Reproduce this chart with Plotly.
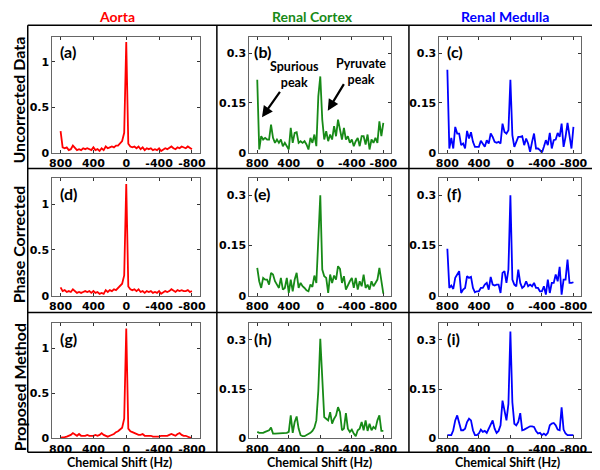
import plotly.graph_objects as go

# ---------------- data ----------------
freq_hz = list(range(800, -801, -25))  # 65 spectral points, 800 Hz .. -800 Hz

aorta_uncorrected = [0.24, 0.06, 0.05, 0.06, 0.03, 0.04, 0.08, 0.05, 0.03, 0.04, 0.03, 0.05, 0.04, 0.05, 0.04, 0.03,
                     0.06, 0.03, 0.04, 0.02, 0.05, 0.03, 0.07, 0.05, 0.06, 0.07, 0.06, 0.08, 0.08, 0.10, 0.13, 0.22,
                     1.22, 0.10, 0.07, 0.06, 0.07, 0.05, 0.07, 0.04, 0.06, 0.03, 0.05, 0.04, 0.05, 0.03, 0.04, 0.03,
                     0.05, 0.02, 0.04, 0.05, 0.04, 0.06, 0.07, 0.05, 0.04, 0.06, 0.05, 0.07, 0.06, 0.05, 0.07, 0.05, 0.04]
cortex_uncorrected = [0.22, 0.01, 0.05, 0.04, 0.045, 0.04, 0.04, 0.085, 0.045, 0.03, 0.04, 0.03, 0.04, 0.02, 0.03, 0.02,
                      0.01, 0.075, 0.03, 0.06, 0.062, 0.03, 0.035, 0.03, 0.035, 0.025, 0.01, 0.045, 0.03, 0.055, 0.02, 0.17,
                      0.23, 0.10, 0.04, 0.065, 0.035, 0.055, 0.04, 0.08, 0.05, 0.10, 0.07, 0.04, 0.075, 0.04, 0.05, 0.03,
                      0.04, 0.02, 0.035, 0.045, 0.02, 0.05, 0.05, 0.025, 0.055, 0.01, 0.04, 0.03, 0.045, 0.03, 0.095, 0.05, 0.09]
medulla_uncorrected = [0.25, 0.013, 0.045, 0.013, 0.078, 0.058, 0.058, 0.023, 0.028, 0.013, 0.066, 0.043, 0.062, 0.033, 0.018, 0.018,
                       0.018, 0.036, 0.026, 0.018, 0.038, 0.028, 0.058, 0.048, 0.033, 0.03, 0.033, 0.028, 0.088, 0.063, 0.058, 0.068,
                       0.22, 0.053, 0.018, 0.033, 0.048, 0.048, 0.05, 0.023, 0.043, 0.028, 0.003, 0.033, 0.058, 0.013, 0.013, 0.008,
                       0.0, 0.018, 0.038, 0.023, 0.06, 0.013, 0.038, 0.04, 0.06, 0.048, 0.088, 0.018, 0.048, 0.09, 0.048, 0.013, 0.078]

aorta_phase = [0.09, 0.05, 0.06, 0.04, 0.05, 0.04, 0.07, 0.05, 0.03, 0.04, 0.03, 0.04, 0.05, 0.04, 0.05, 0.03,
               0.05, 0.03, 0.04, 0.02, 0.03, 0.02, 0.06, 0.04, 0.06, 0.05, 0.07, 0.06, 0.08, 0.10, 0.13, 0.22,
               1.22, 0.10, 0.07, 0.06, 0.07, 0.05, 0.07, 0.04, 0.05, 0.03, 0.05, 0.04, 0.05, 0.03, 0.04, 0.03,
               0.05, 0.02, 0.04, 0.05, 0.04, 0.05, 0.07, 0.05, 0.04, 0.06, 0.05, 0.06, 0.05, 0.05, 0.06, 0.04, 0.05]
cortex_phase = [0.083, 0.043, 0.023, 0.053, 0.048, 0.048, 0.033, 0.068, 0.063, 0.043, 0.033, 0.023, 0.053, 0.018, 0.023, 0.053,
                0.008, 0.048, 0.013, 0.048, 0.068, 0.023, 0.038, 0.028, 0.023, 0.016, 0.013, 0.033, 0.026, 0.06, 0.038, 0.177,
                0.30, 0.078, 0.058, 0.053, 0.008, 0.063, 0.038, 0.06, 0.048, 0.088, 0.08, 0.038, 0.058, 0.018, 0.033, 0.043,
                0.053, 0.023, 0.053, 0.018, 0.043, 0.028, 0.063, 0.023, 0.033, 0.018, 0.043, 0.028, 0.038, 0.048, 0.083, 0.038, 0.006]
medulla_phase = [0.14, 0.023, 0.03, 0.02, 0.053, 0.063, 0.073, 0.008, 0.018, 0.023, 0.058, 0.053, 0.056, 0.023, 0.01, 0.013,
                 0.013, 0.023, 0.023, 0.033, 0.038, 0.018, 0.056, 0.033, 0.03, 0.033, 0.033, 0.008, 0.068, 0.073, 0.038, 0.078,
                 0.30, 0.048, 0.033, 0.028, 0.078, 0.038, 0.023, 0.028, 0.043, 0.028, 0.033, 0.028, 0.038, 0.023, 0.023, 0.013,
                 0.013, 0.028, 0.003, 0.048, 0.008, 0.038, 0.038, 0.063, 0.043, 0.086, 0.003, 0.048, 0.048, 0.108, 0.038, 0.038, 0.04]

aorta_proposed = [0.01, 0.01, 0.015, 0.02, 0.03, 0.04, 0.06, 0.04, 0.03, 0.05, 0.03, 0.03, 0.03, 0.04, 0.03, 0.03,
                  0.03, 0.04, 0.03, 0.04, 0.06, 0.04, 0.03, 0.02, 0.03, 0.04, 0.05, 0.07, 0.08, 0.10, 0.12, 0.22,
                  1.22, 0.11, 0.08, 0.07, 0.06, 0.05, 0.04, 0.04, 0.05, 0.03, 0.03, 0.03, 0.03, 0.02, 0.02, 0.02,
                  0.02, 0.03, 0.03, 0.03, 0.03, 0.04, 0.05, 0.04, 0.03, 0.05, 0.06, 0.04, 0.03, 0.03, 0.02, 0.01, 0.01]
cortex_proposed = [0.02, 0.017, 0.017, 0.017, 0.02, 0.023, 0.025, 0.033, 0.015, 0.015, 0.015, 0.015, 0.015, 0.015, 0.015, 0.017,
                   0.02, 0.07, 0.017, 0.05, 0.067, 0.03, 0.01, 0.007, 0.007, 0.01, 0.015, 0.017, 0.023, 0.033, 0.055, 0.145,
                   0.303, 0.17, 0.065, 0.06, 0.055, 0.08, 0.045, 0.06, 0.07, 0.095, 0.08, 0.025, 0.03, 0.077, 0.03, 0.02,
                   0.027, 0.015, 0.007, 0.025, 0.03, 0.05, 0.025, 0.055, 0.023, 0.045, 0.025, 0.035, 0.03, 0.055, 0.07, 0.023, 0.023]
medulla_proposed = [0.01, 0.01, 0.01, 0.025, 0.055, 0.07, 0.05, 0.025, 0.025, 0.03, 0.05, 0.06, 0.055, 0.025, 0.01, 0.01,
                    0.015, 0.027, 0.02, 0.023, 0.017, 0.03, 0.045, 0.055, 0.03, 0.017, 0.023, 0.04, 0.115, 0.085, 0.055, 0.105,
                    0.325, 0.11, 0.045, 0.04, 0.05, 0.077, 0.025, 0.027, 0.03, 0.035, 0.037, 0.037, 0.035, 0.023, 0.015, 0.017,
                    0.01, 0.015, 0.01, 0.017, 0.04, 0.045, 0.047, 0.04, 0.027, 0.025, 0.095, 0.027, 0.015, 0.01, 0.01, 0.01, 0.01]

column_titles = ["Aorta", "Renal Cortex", "Renal Medulla"]
row_titles = ["Uncorrected Data", "Phase Corrected", "Proposed Method"]
panel_letters = ["(a)", "(b)", "(c)", "(d)", "(e)", "(f)", "(g)", "(h)", "(i)"]
x_tick_values = [800, 400, 0, -400, -800]
x_tick_labels = ["800", "400", "0", "-400", "-800"]
aorta_y_ticks = [0, 0.5, 1]
aorta_y_labels = ["0", "0.5", "1"]
renal_y_ticks = [0, 0.15, 0.3]
renal_y_labels = ["0", "0.15", "0.3"]
x_title = "Chemical Shift (Hz)"

# ---------------- layout geometry (pixels) ----------------
W, H = 600, 470
series = [
    [aorta_uncorrected, cortex_uncorrected, medulla_uncorrected],
    [aorta_phase, cortex_phase, medulla_phase],
    [aorta_proposed, cortex_proposed, medulla_proposed],
]
colors = ["#ff0000", "#178a17", "#0000ff"]
col_px = [(42, 192), (242, 386), (435, 579)]
row_px = [(29, 147), (173, 292), (320, 437)]

def px_x(p):
    return p / W

def px_y(p):
    return 1 - p / H

fig = go.Figure()
tickfont = dict(family="DejaVu Sans", size=11, color="black", weight="bold")

annotations = []
k = 0
for r in range(3):
    for c in range(3):
        k += 1
        xa = "x" if k == 1 else f"x{k}"
        ya = "y" if k == 1 else f"y{k}"
        fig.add_trace(go.Scatter(x=freq_hz, y=series[r][c], mode="lines",
                                 line=dict(color=colors[c], width=1.8),
                                 xaxis=xa, yaxis=ya, showlegend=False, hoverinfo="skip"))
        l, rr = col_px[c]
        t, b = row_px[r]
        xkey = "xaxis" if k == 1 else f"xaxis{k}"
        ykey = "yaxis" if k == 1 else f"yaxis{k}"
        fig.layout[xkey] = dict(domain=[px_x(l), px_x(rr)], anchor=ya, range=[900, -900],
                                tickvals=x_tick_values, ticktext=x_tick_labels,
                                ticks="inside", ticklen=3, tickcolor="#333", showline=True,
                                linecolor="#666", linewidth=1, mirror="ticks", showgrid=False,
                                zeroline=False, tickfont=tickfont, fixedrange=True)
        if c == 0:
            yr, yt, yl = [0, 1.28], aorta_y_ticks, aorta_y_labels
        else:
            yr, yt, yl = [0, 0.35], renal_y_ticks, renal_y_labels
        fig.layout[ykey] = dict(domain=[px_y(b), px_y(t)], anchor=xa, range=yr,
                                tickvals=yt, ticktext=yl,
                                ticks="inside", ticklen=3, tickcolor="#333", showline=True,
                                linecolor="#666", linewidth=1, mirror="ticks", showgrid=False,
                                zeroline=False, tickfont=tickfont, fixedrange=True)
        # panel letter
        lx = l + 6 if c != 1 else l + 3
        annotations.append(dict(text=panel_letters[k - 1], xref="paper", yref="paper",
                                x=px_x(lx), y=px_y(t + 15), xanchor="left", yanchor="middle",
                                showarrow=False, font=dict(family="Lato", size=16, color="black", weight="bold")))

# column titles
for c, (title, cx) in enumerate(zip(column_titles, [108, 306, 502])):
    annotations.append(dict(text=title, xref="paper", yref="paper", x=px_x(cx), y=px_y(-1),
                            xanchor="center", yanchor="top", showarrow=False, borderpad=0,
                            font=dict(family="Lato", size=14, color=colors[c], weight="bold")))
# row titles
for title, cy in zip(row_titles, [93, 240, 385]):
    annotations.append(dict(text=title, xref="paper", yref="paper", x=px_x(8), y=px_y(cy),
                            xanchor="center", yanchor="middle", showarrow=False, textangle=-90,
                            font=dict(family="Lato", size=16, color="black", weight="bold")))
# x titles
for cx in [110, 313, 504]:
    annotations.append(dict(text=x_title, xref="paper", yref="paper", x=px_x(cx), y=px_y(461),
                            xanchor="center", yanchor="middle", showarrow=False,
                            font=dict(family="Lato", size=12.5, color="black", weight="bold")))

# arrows and notes in panel (b)
for tip_x, tip_y, ax, ay in [(740, 0.107, 19, -27), (-95, 0.127, 17, -28)]:
    annotations.append(dict(x=tip_x, y=tip_y, xref="x2", yref="y2", ax=ax, ay=ay,
                            showarrow=True, arrowhead=2, arrowsize=1, arrowwidth=2.2,
                            arrowcolor="black", text=""))
for txt, cx, cy in [("Spurious<br>peak", 288, 68), ("Pyruvate<br>peak", 355, 64)]:
    annotations.append(dict(text=txt, xref="paper", yref="paper", x=px_x(cx), y=px_y(cy),
                            xanchor="center", yanchor="middle", showarrow=False,
                            font=dict(family="Lato", size=12.5, color="black", weight="bold")))

# frame lines
shapes = []
vx = [17, 209, 404, 598]
hy = [17.5, 163, 309, 451]
for x in vx:
    shapes.append(dict(type="line", xref="paper", yref="paper", x0=px_x(x), x1=px_x(x),
                       y0=px_y(hy[0]), y1=px_y(hy[-1]), line=dict(color="black", width=1.5)))
for y in hy:
    shapes.append(dict(type="line", xref="paper", yref="paper", x0=px_x(vx[0]), x1=px_x(vx[-1]),
                       y0=px_y(y), y1=px_y(y), line=dict(color="black", width=1.5)))

fig.update_layout(width=W, height=H, margin=dict(l=0, r=0, t=0, b=0),
                  paper_bgcolor="white", plot_bgcolor="white",
                  annotations=annotations, shapes=shapes, showlegend=False)
fig.write_html("out.html", include_plotlyjs=True, config={"displayModeBar": False})
